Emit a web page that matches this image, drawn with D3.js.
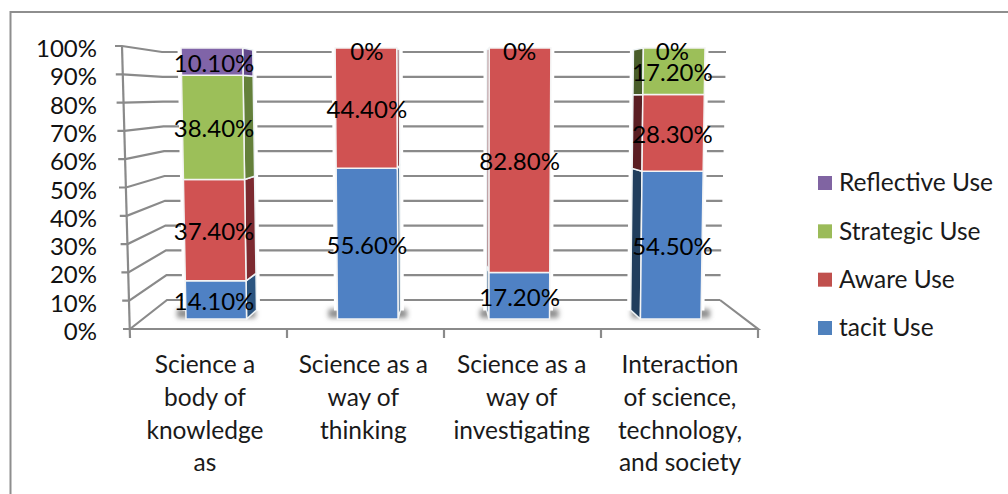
<!DOCTYPE html>
<html>
<head>
<meta charset="utf-8">
<script src="https://cdn.jsdelivr.net/npm/d3@7"></script>
<style>
  html, body { margin: 0; padding: 0; background: #fff; overflow: hidden; }
  svg { display: block; font-family: Lato, "Open Sans", sans-serif; }
</style>
</head>
<body>
<svg width="1008" height="494"></svg>
<script>
const categories = [
  ["Science a", "body of", "knowledge", "as"],
  ["Science as a", "way of", "thinking"],
  ["Science as a", "way of", "investigating"],
  ["Interaction", "of science,", "technology,", "and society"]
];
const tacitUse = [14.1, 55.6, 17.2, 54.5];
const awareUse = [37.4, 44.4, 82.8, 28.3];
const strategicUse = [38.4, 0, 0, 17.2];
const reflectiveUse = [10.1, 0, 0, 0];
const seriesNames = ["tacit Use", "Aware Use", "Strategic Use", "Reflective Use"];
const seriesColors = ["#4f81c4", "#d05252", "#9cbf59", "#8064a8"];
const legendColors = ["#4f81bd", "#c0504d", "#9bbb59", "#8064a2"];
const sideColors = ["#2c5580", "#7c2a30", "#64803a", "#62498a"];
const yTicks = [0, 10, 20, 30, 40, 50, 60, 70, 80, 90, 100];

const svg = d3.select("svg");
const idx = d3.range(categories.length);

// outer frame, only top and left are inside the picture
svg.append("path")
  .attr("d", d3.line()([[10.5, 494], [10.5, 12], [1008, 12]]))
  .attr("fill", "none").attr("stroke", "#8e8e8e").attr("stroke-width", 2);

const defs = svg.append("defs");
defs.append("filter").attr("id", "shadow")
  .attr("x", "-30%").attr("y", "-100%").attr("width", "160%").attr("height", "300%")
  .append("feGaussianBlur").attr("stdDeviation", 2.5);

// three planes of the fake 3d chart
const yBack = d3.scaleLinear().domain([0, 100]).range([300, 52]);
const ySide = d3.scaleLinear().domain([0, 100]).range([329, 46]);
const yBar = d3.scaleLinear().domain([0, 100]).range([319, 48]);
const xSide = d3.scaleLinear().domain([0, 100]).range([130, 122]);
const xBackL = d3.scaleLinear().domain([0, 100]).range([167, 162]);
const xBackR = d3.scaleLinear().domain([0, 100]).range([720, 726]);

const xAxisScale = d3.scaleBand().domain(idx).range([130, 758]);
const xLabel = d3.scalePoint().domain(idx).range([205, 680]);
const barBottom = d3.scaleBand().domain(idx).range([186, 701]).paddingInner(0.6);
const barTop = d3.scaleBand().domain(idx).range([181, 705]).paddingInner(0.6);

const GRID = "#8a8a8a";
const grid = svg.append("g").attr("fill", "none").attr("stroke", GRID).attr("stroke-width", 2.2);

yTicks.forEach(t => {
  grid.append("path").attr("d", d3.line()([
    [xSide(t) - 7, ySide(t)],
    [xSide(t), ySide(t)],
    [xBackL(t), yBack(t)],
    [xBackR(t), yBack(t)]
  ]));
});
grid.append("path").attr("d", d3.line()([[xSide(100), ySide(100)], [xSide(0), ySide(0) + 9]]));
grid.append("path").attr("d", d3.line()([
  [xSide(0) - 7, ySide(0)], [758, ySide(0)], [xBackR(0), yBack(0)]
]));
d3.range(1, 5).forEach(i => {
  const x = i < 4 ? xAxisScale(i) : xAxisScale(3) + xAxisScale.bandwidth();
  grid.append("path").attr("d", d3.line()([[x, ySide(0)], [x, ySide(0) + 9]]));
});

// y labels
svg.append("g").selectAll("text").data(yTicks).join("text")
  .attr("x", 97).attr("y", d => ySide(d) + 5)
  .attr("dominant-baseline", "middle")
  .attr("text-anchor", "end")
  .attr("font-size", 24).attr("fill", "#111")
  .text(d => d + "%");

// category labels
categories.forEach((lines, i) => {
  svg.append("text")
    .attr("text-anchor", "middle")
    .attr("font-size", 24.5).attr("fill", "#1a1a1a")
    .selectAll("tspan").data(lines).join("tspan")
    .attr("x", xLabel(i))
    .attr("y", (d, j) => 373 + j * 32.8)
    .text(d => d);
});

const stackData = idx.map(i => ({
  tacit: tacitUse[i], aware: awareUse[i], strategic: strategicUse[i], reflective: reflectiveUse[i]
}));
const stacked = d3.stack().keys(["tacit", "aware", "strategic", "reflective"])(stackData);

// bar edge at a given value, front face narrows toward the bottom
const leftAt = (i, v) => d3.interpolateNumber(barBottom(i), barTop(i))(v / 100);
const rightAt = (i, v) => leftAt(i, v) + d3.interpolateNumber(barBottom.bandwidth(), barTop.bandwidth())(v / 100);
// depth of the side face, all bars recede to one vanishing point
const backX = x => x + (445 - x) * 0.05;
const backY = y => y + (98 - y) * 0.04;

const bars = svg.append("g");

// floor shadows
idx.forEach(i => {
  bars.append("rect")
    .attr("x", barBottom(i) - 9).attr("y", yBar(0) - 10)
    .attr("width", barBottom.bandwidth() + 18).attr("height", 9)
    .attr("fill", "#8f8f8f").attr("filter", "url(#shadow)");
});

idx.forEach(i => {
  const onRight = i < 2;
  // white halo cuts the gridlines around the bar
  const haloEdge = onRight ? rightAt : leftAt;
  bars.append("path")
    .attr("fill", "#fff").attr("stroke", "#fff").attr("stroke-width", 7)
    .attr("d", d3.line()([
      [onRight ? leftAt(i, 0) : backX(leftAt(i, 0)), yBar(0) - 12],
      [onRight ? leftAt(i, 100) : backX(leftAt(i, 100)), yBar(100)],
      [onRight ? backX(rightAt(i, 100)) : rightAt(i, 100), yBar(100)],
      [onRight ? backX(rightAt(i, 0)) : rightAt(i, 0), yBar(0) - 12]
    ]) + "Z");

  stacked.forEach((layer, k) => {
    const [v0, v1] = layer[i];
    if (v1 - v0 <= 0) return;
    const xe0 = haloEdge(i, v0), xe1 = haloEdge(i, v1);
    const dark = i === 3 ? d3.color(sideColors[k]).darker(0.9) : d3.color(sideColors[k]);
    bars.append("path")
      .attr("fill", dark).attr("stroke", "#eef3f5").attr("stroke-width", 1.5)
      .attr("d", d3.line()([
        [xe0, yBar(v0)], [xe1, yBar(v1)],
        [backX(xe1), backY(yBar(v1))], [backX(xe0), backY(yBar(v0))]
      ]) + "Z");
    bars.append("path")
      .attr("fill", seriesColors[k]).attr("stroke", "#f4f4f4").attr("stroke-width", 1.5)
      .attr("d", d3.line()([
        [leftAt(i, v0), yBar(v0)], [leftAt(i, v1), yBar(v1)],
        [rightAt(i, v1), yBar(v1)], [rightAt(i, v0), yBar(v0)]
      ]) + "Z");
  });
});

// data labels
const fmt = v => v === 0 ? "0%" : v.toFixed(2) + "%";
const labels = svg.append("g")
  .attr("text-anchor", "middle").attr("font-size", 24).attr("fill", "#000");
idx.forEach(i => {
  const cx = (leftAt(i, 50) + rightAt(i, 50)) / 2;
  let zeroDone = false;
  stacked.forEach(layer => {
    const [v0, v1] = layer[i];
    const v = v1 - v0;
    if (v <= 0) {
      if (zeroDone) return;
      zeroDone = true;
    }
    labels.append("text")
      .attr("x", cx)
      .attr("y", v > 0 ? yBar((v0 + v1) / 2) + 4 : yBar(100) + 6)
      .attr("dominant-baseline", "middle")
      .text(fmt(Math.round(v * 10) / 10));
  });
});

// legend, drawn top to bottom in reverse series order
const legendY = d3.scalePoint().domain(d3.range(4)).range([183, 328]);
const legend = svg.append("g").selectAll("g").data([3, 2, 1, 0]).join("g")
  .attr("transform", (d, j) => `translate(818,${legendY(j)})`);
legend.append("rect")
  .attr("y", -7).attr("width", 14).attr("height", 14)
  .attr("fill", d => legendColors[d]);
legend.append("text")
  .attr("x", 21).attr("dominant-baseline", "middle").attr("y", 2)
  .attr("font-size", 24.5).attr("fill", "#1a1a1a")
  .text(d => seriesNames[d]);
</script>
</body>
</html>
